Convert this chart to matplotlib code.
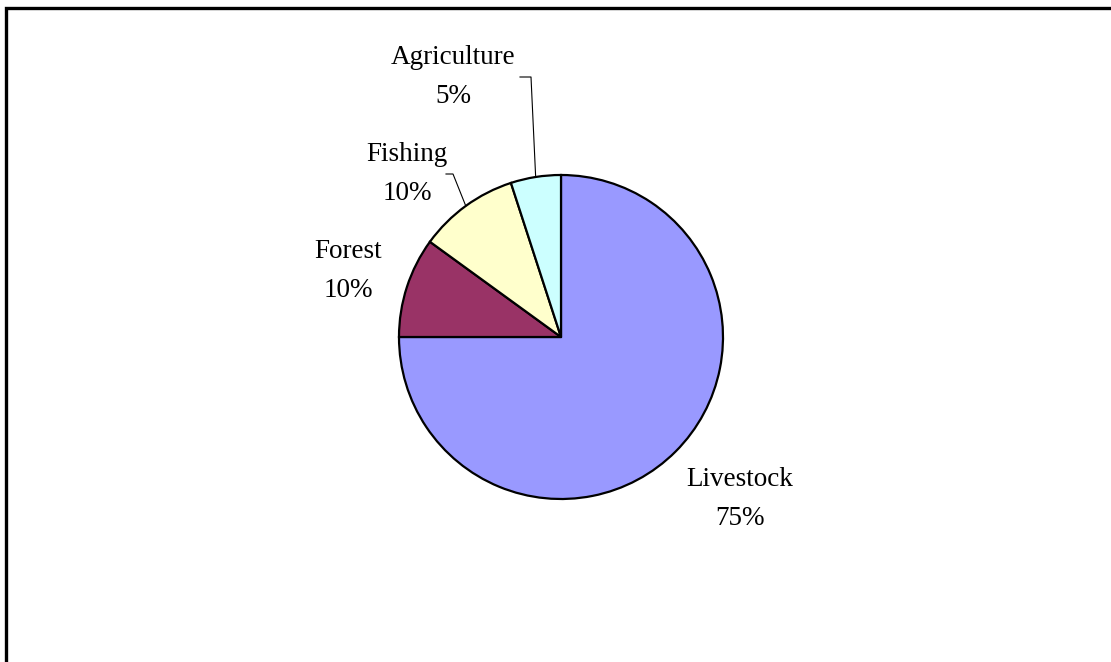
import numpy as np
import matplotlib.pyplot as plt

labels = ["Livestock", "Forest", "Fishing", "Agriculture"]
shares = [75, 10, 10, 5]
colors = ["#9999FF", "#993366", "#FFFFCC", "#CCFFFF"]

# label positions in pixels of the 1111x662 picture (text centre)
label_px = [(740, 499), (348, 271), (407, 174), (453, 77)]
# elbow of the leader line (None = no leader)
elbow_px = [None, None, (446, 174), (520, 77)]
elbow_turn = [None, None, (453, 174), (531, 77)]

W, H = 1111, 662
cx, cy, r = 561, 337, 162

plt.rcParams['font.family'] = ['Liberation Serif', 'DejaVu Serif']

fig = plt.figure(figsize=(W / 100, H / 100), dpi=100)
ax = fig.add_axes([(cx - r) / W, (H - cy - r) / H, 2 * r / W, 2 * r / H])
wedges, _ = ax.pie(shares, colors=colors, startangle=90, counterclock=False,
                   radius=1, wedgeprops=dict(edgecolor="black", linewidth=1.6))
ax.set_xlim(-1, 1)
ax.set_ylim(-1, 1)
ax.set_aspect("equal")
ax.axis("off")


def to_data(px, py):
    return (px - cx) / r, (cy - py) / r


for i, w in enumerate(wedges):
    x, y = to_data(*label_px[i])
    ax.text(x, y, "%s\n%d%%" % (labels[i], shares[i]), ha="center", va="center",
            fontsize=19.5, linespacing=1.72, clip_on=False)
    if elbow_px[i] is not None:
        mid = np.deg2rad((w.theta1 + w.theta2) / 2)
        ex, ey = np.cos(mid), np.sin(mid)
        x0, y0 = to_data(*elbow_px[i])
        x1, y1 = to_data(*elbow_turn[i])
        ax.plot([x0, x1, ex], [y0, y1, ey], color="black", linewidth=0.8,
                clip_on=False)

# outer frame (only top and left edges fall inside the picture)
fig.add_artist(plt.Line2D([6 / W, 6 / W, 1], [0, 1 - 8 / H, 1 - 8 / H],
                          color="black", linewidth=2.4,
                          solid_joinstyle="miter", transform=fig.transFigure))

fig.savefig("out.png", dpi=100)
